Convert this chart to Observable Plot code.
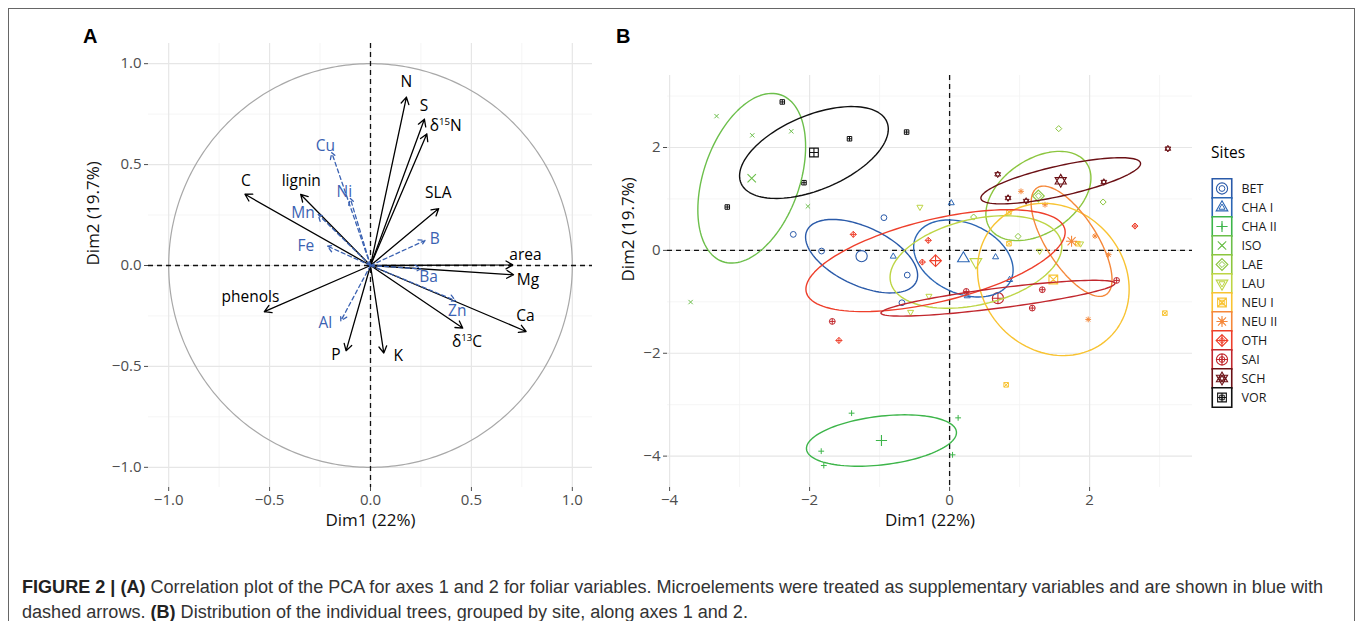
<!DOCTYPE html>
<html>
<head>
<meta charset="utf-8">
<script src="https://cdn.jsdelivr.net/npm/d3@7"></script>
<script src="https://cdn.jsdelivr.net/npm/@observablehq/plot@0.6"></script>
<style>
  html, body { margin: 0; padding: 0; background: #fff; }
  #fig { position: relative; width: 1357px; height: 621px; overflow: hidden; background: #fff; font-family: "Open Sans", sans-serif; }
  #frame { position: absolute; left: 8px; top: 8px; width: 1347px; height: 700px; box-sizing: border-box; border: 1.5px solid #666; }
  .abs { position: absolute; }
  .plab { position: absolute; font-family: "Liberation Sans", Arial, sans-serif; font-weight: bold; font-size: 20px; line-height: 20px; color: #000; }
  #sitesTitle { position: absolute; left: 1211px; top: 142px; font-size: 15.5px; line-height: 20px; color: #000; }
  #caption { position: absolute; left: 22px; top: 575px; font-family: "Liberation Sans", Arial, sans-serif; font-size: 16px; line-height: 25px; color: #333; white-space: nowrap; }
  #caption b { color: #222; }
</style>
</head>
<body>
<div id="fig">
  <div id="frame"></div>
  <div id="panelA" class="abs" style="left:0px;top:0px;width:600px;height:540px"></div>
  <div id="panelB" class="abs" style="left:600px;top:0px;width:600px;height:540px"></div>
  <div id="legend" class="abs" style="left:1195px;top:140px;width:140px;height:290px"></div>
  <div class="plab" style="left:83px;top:26px">A</div>
  <div class="plab" style="left:616px;top:26px">B</div>
  <div id="sitesTitle">Sites</div>
  <div id="caption"><span id="cap1"><b>FIGURE 2 | (A)</b> Correlation plot of the PCA for axes 1 and 2 for foliar variables. Microelements were treated as supplementary variables and are shown in blue with</span><br><span>dashed arrows. <b>(B)</b> Distribution of the individual trees, grouped by site, along axes 1 and 2.</span></div>
</div>
<script>
// ---------------- Panel A data: variable correlations (Dim1, Dim2) ----------------
const activeNames   = ["N", "S", "δ15N", "SLA", "area", "Mg", "Ca", "δ13C", "K", "P", "phenols", "C", "lignin"];
const activeDim1    = [0.178, 0.267, 0.279, 0.338, 0.705, 0.709, 0.771, 0.457, 0.066, -0.121, -0.526, -0.622, -0.346];
const activeDim2    = [0.834, 0.725, 0.652, 0.282, 0.003, -0.046, -0.327, -0.310, -0.434, -0.423, -0.229, 0.353, 0.352];
const activeLabDim1 = [0.178, 0.265, 0.373, 0.336, 0.768, 0.780, 0.768, 0.478, 0.137, -0.171, -0.595, -0.618, -0.343];
const activeLabDim2 = [0.907, 0.791, 0.692, 0.357, 0.050, -0.071, -0.252, -0.378, -0.448, -0.444, -0.158, 0.420, 0.420];

const suppNames   = ["Cu", "Ni", "Mn", "Fe", "B", "Ba", "Zn", "Al"];
const suppDim1    = [-0.192, -0.100, -0.259, -0.213, 0.270, 0.249, 0.421, -0.147];
const suppDim2    = [0.559, 0.332, 0.252, 0.096, 0.124, -0.017, -0.174, -0.274];
const suppLabDim1 = [-0.224, -0.130, -0.334, -0.320, 0.318, 0.288, 0.430, -0.224];
const suppLabDim2 = [0.594, 0.365, 0.262, 0.095, 0.133, -0.058, -0.224, -0.285];

const ticksA = [-1, -0.5, 0, 0.5, 1];
const minorA = [-0.75, -0.25, 0.25, 0.75];

// ---------------- Panel B data: individual trees ----------------
const sites = ["BET", "CHA I", "CHA II", "ISO", "LAE", "LAU", "NEU I", "NEU II", "OTH", "SAI", "SCH", "VOR"];
const siteColors = ["#2a5aa9", "#2c66b4", "#3db54a", "#6cbf4b", "#8cc63f", "#bdd545", "#f8c332", "#f5883a", "#ee3f2b", "#c1272d", "#6b1015", "#111111"];

const treeSite = [
  "BET","BET","BET","BET","BET",
  "CHA I","CHA I","CHA I","CHA I","CHA I",
  "CHA II","CHA II","CHA II","CHA II","CHA II",
  "ISO","ISO","ISO","ISO","ISO",
  "LAE","LAE","LAE","LAE","LAE",
  "LAU","LAU","LAU","LAU","LAU",
  "NEU I","NEU I","NEU I","NEU I","NEU I",
  "NEU II","NEU II","NEU II","NEU II","NEU II",
  "OTH","OTH","OTH","OTH","OTH",
  "SAI","SAI","SAI","SAI","SAI",
  "SCH","SCH","SCH","SCH","SCH",
  "VOR","VOR","VOR","VOR","VOR"
];
const treeDim1 = [
  -0.938, -2.233, -1.829, -0.605, -0.681,
   0.024, -0.805,  0.657,  0.857,  0.252,
  -1.400,  0.122, -1.834, -1.797,  0.042,
  -3.329, -2.819, -2.262, -2.024, -3.700,
   1.559,  2.193,  0.978,  0.343,  1.270,
  -0.424,  1.286,  1.871, -0.295, -0.557,
   0.848,  0.848,  3.075,  0.808,  1.830,
   1.020,  1.363,  2.077,  2.272,  1.980,
  -1.376, -0.305, -0.390, -1.581,  2.648,
  -1.676,  0.238,  1.324,  1.181,  2.386,
   0.687,  0.835,  1.094,  2.203,  3.118,
  -2.390, -1.430, -0.614, -2.080, -3.176
];
const treeDim2 = [
   0.636,  0.311, -0.013, -0.480, -1.018,
   0.921, -0.117, -0.130, -0.571, -0.888,
  -3.165, -3.256, -3.904, -4.183, -3.975,
   2.610,  2.237,  2.315,  0.856, -1.005,
   2.367,  0.940,  0.272,  0.648,  1.060,
   0.843, -0.013,  0.130, -0.888, -1.200,
   0.746,  0.130, -1.220, -2.614,  0.130,
   1.148,  0.888,  0.279, -0.084, -1.342,
   0.311,  0.195, -0.227, -1.751,  0.473,
  -1.381, -0.798, -0.765, -1.122, -0.584,
   1.479,  1.018,  0.960,  1.329,  1.978,
   2.886,  2.170,  2.300,  1.316,  0.843
];

const ticksB = [-4, -2, 0, 2];
const minorB = [-3, -1, 1, 3];

// ---------------- ggplot-like point shapes (stroked) ----------------
const P = {
  sq:   (c, s) => { c.moveTo(-s, -s); c.lineTo(s, -s); c.lineTo(s, s); c.lineTo(-s, s); c.closePath(); },
  circ: (c, s) => { c.moveTo(s, 0); c.arc(0, 0, s, 0, 2 * Math.PI); c.closePath(); },
  plus: (c, s) => { c.moveTo(-s, 0); c.lineTo(s, 0); c.moveTo(0, -s); c.lineTo(0, s); },
  times:(c, s) => { c.moveTo(-s, -s); c.lineTo(s, s); c.moveTo(-s, s); c.lineTo(s, -s); },
  dia:  (c, s) => { c.moveTo(0, -s); c.lineTo(s, 0); c.lineTo(0, s); c.lineTo(-s, 0); c.closePath(); },
  triU: (c, s) => { c.moveTo(0, -s); c.lineTo(s * 0.866, s * 0.5); c.lineTo(-s * 0.866, s * 0.5); c.closePath(); },
  triD: (c, s) => { c.moveTo(0, s); c.lineTo(s * 0.866, -s * 0.5); c.lineTo(-s * 0.866, -s * 0.5); c.closePath(); }
};
const shape = f => ({ draw(ctx, size) { f(ctx, Math.sqrt(size / Math.PI)); } });
const siteSymbols = [
  shape((c, h) => P.circ(c, h)),                                   // BET
  shape((c, h) => P.triU(c, h * 1.2)),                             // CHA I
  shape((c, h) => P.plus(c, h)),                                   // CHA II
  shape((c, h) => P.times(c, h * 0.75)),                           // ISO
  shape((c, h) => P.dia(c, h * 1.05)),                             // LAE
  shape((c, h) => P.triD(c, h * 1.2)),                             // LAU
  shape((c, h) => { P.sq(c, h * 0.78); P.times(c, h * 0.78); }),   // NEU I
  shape((c, h) => { P.plus(c, h); P.times(c, h * 0.72); }),        // NEU II
  shape((c, h) => { P.dia(c, h * 1.05); P.plus(c, h * 1.05); }),   // OTH
  shape((c, h) => { P.circ(c, h); P.plus(c, h); }),                // SAI
  shape((c, h) => { P.triU(c, h * 1.15); P.triD(c, h * 1.15); }),  // SCH
  shape((c, h) => { P.sq(c, h * 0.78); P.plus(c, h * 0.78); })     // VOR
];

// ---------------- build tables ----------------
const activeVars = activeNames.map((n, i) => ({ name: n, dim1: activeDim1[i], dim2: activeDim2[i], lx: activeLabDim1[i], ly: activeLabDim2[i] }));
const suppVars = suppNames.map((n, i) => ({ name: n, dim1: suppDim1[i], dim2: suppDim2[i], lx: suppLabDim1[i], ly: suppLabDim2[i] }));
const unitCircle = d3.range(0, 361).map(a => ({ x: Math.cos(a * Math.PI / 180), y: Math.sin(a * Math.PI / 180) }));

const trees = treeSite.map((s, i) => ({ site: s, dim1: treeDim1[i], dim2: treeDim2[i] }));
const bySite = d3.group(trees, d => d.site);
const means = sites.map(s => ({ site: s, dim1: d3.mean(bySite.get(s), d => d.dim1), dim2: d3.mean(bySite.get(s), d => d.dim2) }));

// 95% confidence ellipses around the group means (chi-square, df = 2)
const chi2 = -2 * Math.log(0.05);
const ellipses = [];
for (const s of sites) {
  const g = bySite.get(s), n = g.length;
  const mx = d3.mean(g, d => d.dim1), my = d3.mean(g, d => d.dim2);
  let sxx = 0, syy = 0, sxy = 0;
  for (const d of g) { const dx = d.dim1 - mx, dy = d.dim2 - my; sxx += dx * dx; syy += dy * dy; sxy += dx * dy; }
  sxx /= n - 1; syy /= n - 1; sxy /= n - 1;
  const r = Math.sqrt(chi2 / n);
  const a = Math.sqrt(sxx), b = sxy / a, c = Math.sqrt(Math.max(syy - b * b, 0));
  for (let k = 0; k <= 120; k++) {
    const t = 2 * Math.PI * k / 120, u = Math.cos(t), v = Math.sin(t);
    ellipses.push({ site: s, x: mx + r * a * u, y: my + r * (b * u + c * v) });
  }
}

const baseStyle = { fontFamily: "'Open Sans', sans-serif", fontSize: "15px", background: "transparent", overflow: "visible", maxWidth: "none" };
const majorGrid = "#e6e6e6", minorGrid = "#f2f2f2";

// ---------------- Panel A ----------------
const plotA = Plot.plot({
  width: 600, height: 540,
  marginLeft: 148, marginRight: 8, marginTop: 43, marginBottom: 53,
  x: { domain: [-1.1, 1.1] },
  y: { domain: [-1.1, 1.1] },
  style: baseStyle,
  marks: [
    Plot.ruleX(minorA, { stroke: minorGrid, strokeWidth: 0.8 }),
    Plot.ruleY(minorA, { stroke: minorGrid, strokeWidth: 0.8 }),
    Plot.ruleX(ticksA, { stroke: majorGrid, strokeWidth: 1.2 }),
    Plot.ruleY(ticksA, { stroke: majorGrid, strokeWidth: 1.2 }),
    Plot.line(unitCircle, { x: "x", y: "y", stroke: "#a8a8a8", strokeWidth: 1.2 }),
    Plot.ruleX([0], { stroke: "#111", strokeWidth: 1.3, strokeDasharray: "5,4" }),
    Plot.ruleY([0], { stroke: "#111", strokeWidth: 1.3, strokeDasharray: "5,4" }),
    Plot.arrow(activeVars, { x1: () => 0, y1: () => 0, x2: "dim1", y2: "dim2", stroke: "#000", strokeWidth: 1.3, headLength: 9, headAngle: 60 }),
    Plot.arrow(suppVars, { x1: () => 0, y1: () => 0, x2: "dim1", y2: "dim2", stroke: "#3b62b2", strokeWidth: 1.3, strokeDasharray: "4,3", headLength: 8, headAngle: 60 }),
    Plot.text(activeVars, { x: "lx", y: "ly", text: "name", fill: "#000", fontSize: 15.5 }),
    Plot.text(suppVars, { x: "lx", y: "ly", text: "name", fill: "#3b62b2", fontSize: 15.5 }),
    Plot.axisX(ticksA, { tickFormat: d3.format(".1f"), tickSize: 4, tickPadding: 3, fontSize: 15, color: "#4d4d4d", label: null }),
    Plot.axisY(ticksA, { tickFormat: d3.format(".1f"), tickSize: 4, tickPadding: 3, fontSize: 15, color: "#4d4d4d", label: null }),
    Plot.text(["Dim1 (22%)"], { frameAnchor: "bottom", dy: 38, fontSize: 17, fill: "#111" }),
    Plot.text(["Dim2 (19.7%)"], { frameAnchor: "left", dx: -55, rotate: -90, fontSize: 17, fill: "#111" })
  ]
});
document.getElementById("panelA").appendChild(plotA);

// superscripts for the isotope labels
d3.select(plotA).selectAll("text").each(function () {
  const t = this.textContent;
  const m = /^δ(\d+)([A-Z])$/.exec(t);
  if (!m) return;
  const sel = d3.select(this);
  sel.text(null);
  sel.append("tspan").text("δ");
  sel.append("tspan").attr("font-size", "0.62em").attr("dy", "-0.6em").text(m[1]);
  sel.append("tspan").attr("dy", "0.372em").text(m[2]);
});

// ---------------- Panel B ----------------
const plotB = Plot.plot({
  width: 600, height: 540,
  marginLeft: 67, marginRight: 8, marginTop: 75, marginBottom: 53,
  x: { domain: [-4.03, 3.47] },
  y: { domain: [-4.61, 3.40] },
  color: { domain: sites, range: siteColors },
  symbol: { domain: sites, range: siteSymbols },
  style: baseStyle,
  marks: [
    Plot.ruleX(minorB, { stroke: minorGrid, strokeWidth: 0.8 }),
    Plot.ruleY(minorB, { stroke: minorGrid, strokeWidth: 0.8 }),
    Plot.ruleX(ticksB, { stroke: majorGrid, strokeWidth: 1.2 }),
    Plot.ruleY(ticksB, { stroke: majorGrid, strokeWidth: 1.2 }),
    Plot.ruleX([0], { stroke: "#111", strokeWidth: 1.3, strokeDasharray: "5,4" }),
    Plot.ruleY([0], { stroke: "#111", strokeWidth: 1.3, strokeDasharray: "5,4" }),
    Plot.dot(trees, { x: "dim1", y: "dim2", symbol: "site", stroke: "site", fill: "none", r: 2.9, strokeWidth: 1 }),
    Plot.dot(means, { x: "dim1", y: "dim2", symbol: "site", stroke: "site", fill: "none", r: 5.6, strokeWidth: 1.1 }),
    Plot.line(ellipses, { x: "x", y: "y", z: "site", stroke: "site", strokeWidth: 1.4 }),
    Plot.axisX(ticksB, { tickFormat: d3.format("d"), tickSize: 4, tickPadding: 3, fontSize: 15, color: "#4d4d4d", label: null }),
    Plot.axisY(ticksB, { tickFormat: d3.format("d"), tickSize: 4, tickPadding: 3, fontSize: 15, color: "#4d4d4d", label: null }),
    Plot.text(["Dim1 (22%)"], { frameAnchor: "bottom", dy: 38, fontSize: 17, fill: "#111" }),
    Plot.text(["Dim2 (19.7%)"], { frameAnchor: "left", dx: -39, rotate: -90, fontSize: 17, fill: "#111" })
  ]
});
document.getElementById("panelB").appendChild(plotB);

// ---------------- Legend (Sites) ----------------
const legend = Plot.plot({
  width: 140, height: 290, margin: 0,
  y: { type: "point", domain: sites, range: [38, 266], axis: null },
  color: { domain: sites, range: siteColors },
  symbol: { domain: sites, range: siteSymbols },
  style: baseStyle,
  marks: [
    Plot.dot(sites, { y: d => d, frameAnchor: "left", dx: 26.5, symbol: "square", r: 11, stroke: d => d, fill: "#fff", strokeWidth: 1.6 }),
    Plot.dot(sites, { y: d => d, frameAnchor: "left", dx: 26.5, symbol: d => d, stroke: d => d, fill: "none", r: 2.9, strokeWidth: 1 }),
    Plot.dot(sites, { y: d => d, frameAnchor: "left", dx: 26.5, symbol: d => d, stroke: d => d, fill: "none", r: 5.6, strokeWidth: 1.1 }),
    Plot.text(sites, { y: d => d, text: d => d, frameAnchor: "left", dx: 46, textAnchor: "start", fontSize: 12.5, fill: "#1a1a1a" })
  ]
});
document.getElementById("legend").appendChild(legend);

// fit caption line 1 to the reference width
(function fitCaption() {
  const cap = document.getElementById("caption");
  const w = document.getElementById("cap1").getBoundingClientRect().width;
  const target = 1302;
  if (w > 0) cap.style.fontSize = (16 * target / w).toFixed(2) + "px";
})();
</script>
</body>
</html>
